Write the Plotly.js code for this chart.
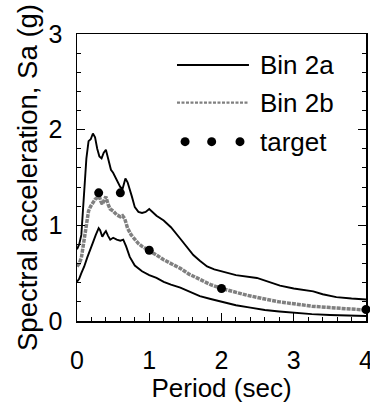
<!DOCTYPE html>
<html>
<head>
<meta charset="utf-8">
<script src="https://cdn.plot.ly/plotly-3.0.1.min.js"></script>
<style>
  html, body { margin: 0; padding: 0; background: #fff; }
  #chart { width: 370px; height: 406px; }
</style>
</head>
<body>
<div id="chart"></div>
<script>
// Bin 2a: upper and lower envelopes of the spectra (black solid)
const upperPeriod = [0, 0.03, 0.06, 0.1, 0.13, 0.16, 0.19, 0.22, 0.25, 0.28, 0.31, 0.34, 0.37, 0.40, 0.43, 0.47, 0.5, 0.55, 0.6, 0.63, 0.67, 0.70, 0.73, 0.76, 0.80, 0.85, 0.90, 0.95, 1.0, 1.05, 1.1, 1.2, 1.3, 1.43, 1.5, 1.61, 1.7, 1.8, 1.9, 2.0, 2.2, 2.49, 2.6, 2.81, 3.0, 3.27, 3.4, 3.59, 3.8, 4.0];
const upperSa     = [0.75, 0.80, 0.90, 1.40, 1.70, 1.88, 1.90, 1.96, 1.92, 1.80, 1.72, 1.70, 1.76, 1.79, 1.70, 1.58, 1.55, 1.48, 1.40, 1.38, 1.49, 1.45, 1.38, 1.30, 1.19, 1.14, 1.13, 1.14, 1.17, 1.13, 1.10, 1.05, 0.98, 0.86, 0.79, 0.69, 0.63, 0.57, 0.54, 0.52, 0.48, 0.45, 0.42, 0.37, 0.34, 0.31, 0.28, 0.25, 0.235, 0.225];

const lowerPeriod = [0, 0.03, 0.06, 0.1, 0.14, 0.18, 0.22, 0.26, 0.30, 0.32, 0.35, 0.38, 0.40, 0.43, 0.46, 0.50, 0.55, 0.60, 0.64, 0.68, 0.73, 0.80, 0.90, 1.0, 1.1, 1.2, 1.3, 1.43, 1.55, 1.70, 1.85, 2.0, 2.2, 2.4, 2.6, 2.8, 3.0, 3.25, 3.5, 3.75, 4.0];
const lowerSa     = [0.41, 0.44, 0.50, 0.57, 0.66, 0.75, 0.82, 0.90, 0.97, 0.95, 0.88, 0.92, 0.94, 0.89, 0.85, 0.87, 0.85, 0.84, 0.85, 0.78, 0.67, 0.58, 0.52, 0.48, 0.45, 0.41, 0.38, 0.35, 0.31, 0.26, 0.23, 0.20, 0.165, 0.14, 0.115, 0.10, 0.085, 0.072, 0.063, 0.057, 0.052];

// Bin 2b: median spectrum (grey dashed)
const medianPeriod = [0, 0.03, 0.06, 0.1, 0.13, 0.16, 0.19, 0.22, 0.25, 0.28, 0.31, 0.33, 0.35, 0.38, 0.40, 0.43, 0.46, 0.50, 0.55, 0.60, 0.63, 0.66, 0.70, 0.75, 0.80, 0.85, 0.90, 1.0, 1.1, 1.2, 1.3, 1.43, 1.55, 1.7, 1.85, 2.0, 2.2, 2.35, 2.6, 2.8, 3.0, 3.25, 3.5, 3.75, 4.0];
const medianSa     = [0.57, 0.60, 0.66, 0.85, 1.02, 1.15, 1.20, 1.24, 1.27, 1.29, 1.30, 1.25, 1.22, 1.27, 1.30, 1.22, 1.17, 1.15, 1.11, 1.09, 1.10, 1.07, 0.97, 0.90, 0.85, 0.81, 0.78, 0.74, 0.69, 0.64, 0.60, 0.55, 0.49, 0.43, 0.38, 0.34, 0.30, 0.27, 0.23, 0.20, 0.18, 0.155, 0.14, 0.125, 0.115];

// Target spectrum points
const targetPeriod = [0.3, 0.6, 1.0, 2.0, 4.0];
const targetSa     = [1.34, 1.34, 0.74, 0.34, 0.12];

// Legend entries
const legendLabels = ['Bin 2a', 'Bin 2b', 'target'];

const FONT = 'Arial, "Liberation Sans", sans-serif';
const GREY = '#808080';

const traces = [
  { x: upperPeriod, y: upperSa, mode: 'lines', name: legendLabels[0],
    line: { color: '#000', width: 1.9 }, showlegend: false },
  { x: lowerPeriod, y: lowerSa, mode: 'lines', name: legendLabels[0],
    line: { color: '#000', width: 1.9 }, showlegend: false },
  { x: medianPeriod, y: medianSa, mode: 'lines', name: legendLabels[1],
    line: { color: GREY, width: 3.5, dash: '4px,1px' }, showlegend: false },
  { x: targetPeriod, y: targetSa, mode: 'markers', name: legendLabels[2],
    marker: { color: '#000', size: 9 }, cliponaxis: false, showlegend: false }
];

// Hand-built legend in the upper-right corner of the plot area
const rowY = [0.892, 0.761, 0.625];
const lineX0 = 0.346, lineX1 = 0.595, textX = 0.626;
const shapes = [
  { type: 'line', xref: 'paper', yref: 'paper', x0: lineX0, x1: lineX1, y0: rowY[0], y1: rowY[0],
    line: { color: '#000', width: 1.9 } },
  { type: 'line', xref: 'paper', yref: 'paper', x0: lineX0, x1: lineX1, y0: rowY[1], y1: rowY[1],
    line: { color: GREY, width: 2.2, dash: '3px,1.5px' } }
];
[0.374, 0.466, 0.564].forEach(function (cx) {
  shapes.push({ type: 'circle', xref: 'paper', yref: 'paper',
    xsizemode: 'pixel', ysizemode: 'pixel', xanchor: cx, yanchor: rowY[2],
    x0: -4.5, x1: 4.5, y0: -4.5, y1: 4.5,
    fillcolor: '#000', line: { width: 0 } });
});
const annotations = legendLabels.map(function (t, i) {
  return { text: t, xref: 'paper', yref: 'paper', x: textX, y: rowY[i],
    xanchor: 'left', yanchor: 'middle', showarrow: false,
    font: { family: FONT, size: 26, color: '#000' } };
});

const axisCommon = {
  showgrid: false, zeroline: false,
  showline: true, linecolor: '#000', linewidth: 1.5,
  ticks: 'inside', ticklen: 8, tickwidth: 1.2, tickcolor: '#000',
  tickfont: { family: FONT, size: 25, color: '#000' },
  ticklabeloverflow: 'allow',
  minor: { dtick: 0.2, ticks: 'inside', ticklen: 4, tickwidth: 1, tickcolor: '#000' }
};

const layout = {
  width: 370, height: 406,
  margin: { l: 77, r: 4, t: 34, b: 85 },
  paper_bgcolor: '#fff', plot_bgcolor: '#fff',
  showlegend: false,
  xaxis: Object.assign({}, axisCommon, {
    range: [0, 4], dtick: 1, tick0: 0, mirror: true,
    ticklabelstandoff: 16,
    title: { text: 'Period (sec)', font: { family: FONT, size: 26, color: '#000' }, standoff: 4 }
  }),
  yaxis: Object.assign({}, axisCommon, {
    range: [0, 3], dtick: 1, tick0: 0, mirror: 'ticks',
    ticklabelstandoff: 8,
    title: { text: 'Spectral acceleration, Sa (g)', font: { family: FONT, size: 27.5, color: '#000' }, standoff: 3 }
  }),
  shapes: shapes,
  annotations: annotations
};

Plotly.newPlot('chart', traces, layout, { displayModeBar: false, staticPlot: true });
</script>
</body>
</html>
